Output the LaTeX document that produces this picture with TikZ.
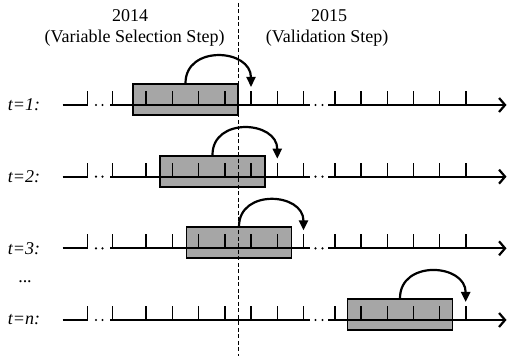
\documentclass[tikz,border=0pt]{standalone}
\usepackage{fontspec}
\setmainfont{Liberation Serif}
\usepackage{xcolor}
\definecolor{winfill}{HTML}{A6A6A6}
\usepackage{tikz}
\usetikzlibrary{arrows.meta}

\begin{document}
\begin{tikzpicture}[
  x=1pt,y=1pt,
  every node/.style={font=\fontsize{18}{21}\selectfont},
  seg/.style={line width=2.2pt},
  axis/.style={line width=2.2pt,-{Straight Barb[length=6pt,width=14pt]}},
  tickmark/.style={line width=1.6pt},
  win/.style={draw,line width=1.7pt,fill=winfill,minimum width=105pt,minimum height=31pt,inner sep=0pt},
  jump/.style={line width=2.2pt,-{Triangle[length=10pt,width=9pt]}},
  split/.style={line width=1.5pt,dash pattern=on 4pt off 2.5pt},
]
\useasboundingbox (0,0) rectangle (507,356);

% headings
\node (y14) at (130,340.5) {2014};
\node (s14) at (134.5,318) {(Variable Selection Step)};
\node (y15) at (329,340.5) {2015};
\node (s15) at (327,318) {(Validation Step)};

% one time line per step
\foreach \r/\y/\bx/\tx in {1/251/185.5/251, 2/179.33/212.5/277.3, 3/107.67/239/303.5, n/36/400/465.7}{
  \node[win] (box\r) at (\bx,\y+5.5) {};
  \node[font=\fontsize{18}{21}\selectfont\itshape] (lab\r) at (24,\y) {t=\r:};
  \draw[seg] (62.5,\y) -- (88,\y);
  \draw[seg] (110,\y) -- (310,\y);
  \draw[axis] (328.3,\y) -- (506.5,\y);
  \foreach \d in {96,102.5,315.5,322.5}
    \fill (\d,\y) circle (1.2);
  \foreach \tk in {87.3,112.3,146,172.3,198.5,224.8,251,277.3,303.5,335,361.2,387.4,413.5,439.6,465.7}
    \draw[tickmark] (\tk,\y) -- (\tk,\y+14);
  \coordinate (tgt\r) at (\tx,\y+18);
  \draw[jump] (box\r.north) to[out=90,in=90,looseness=1.5] (tgt\r);
}
\node (more) at (25,74.3) {...};

% split between the two years
\coordinate (top) at (238.3,353);
\coordinate (bot) at (238.3,0);
\draw[split] (top) -- (bot);
\end{tikzpicture}
\end{document}
